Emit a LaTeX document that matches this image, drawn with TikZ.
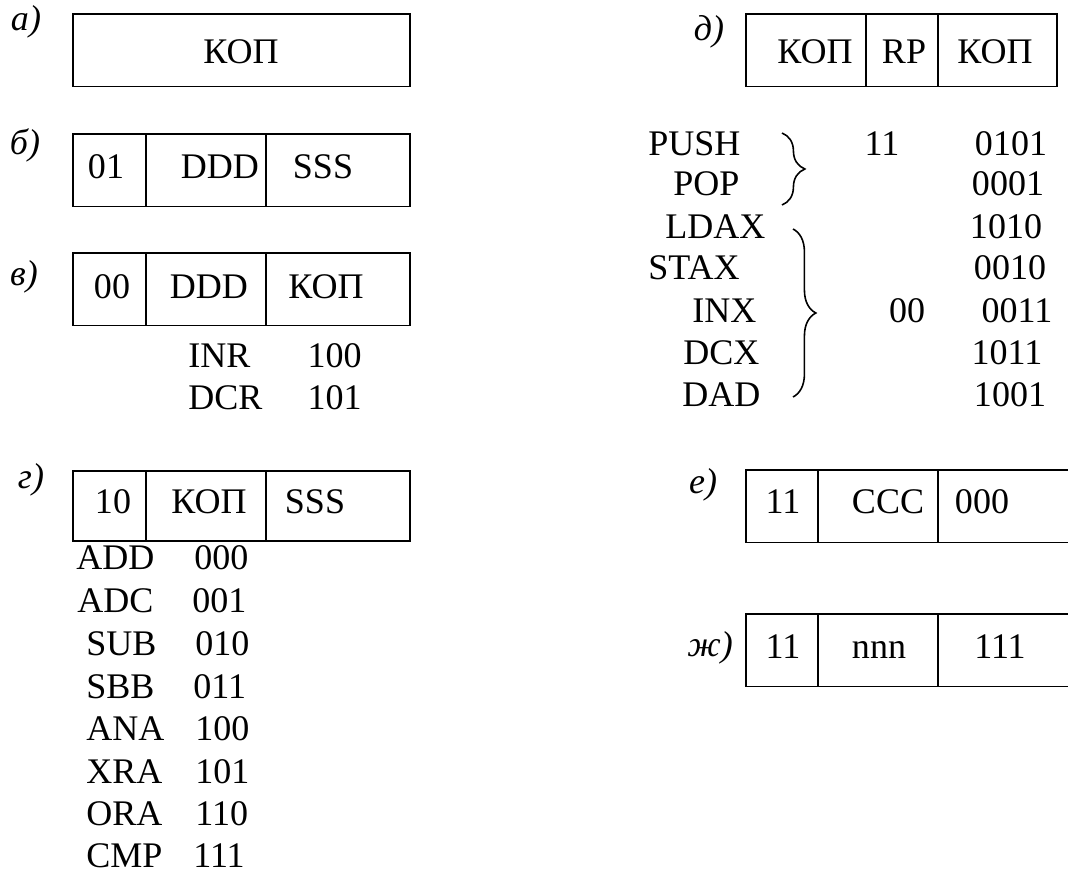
\documentclass[tikz,border=0pt]{standalone}
\usepackage{fontspec}
\setmainfont{Liberation Serif}
\usetikzlibrary{positioning}
\usetikzlibrary{decorations.pathreplacing}

\begin{document}
\begin{tikzpicture}[x=0.02cm, y=-0.02cm,
		field/.style={draw, line width=1pt, inner sep=0pt, outer sep=0pt, minimum height=1.45cm},
		txt/.style={inner sep=0pt, font=\fontsize{20.5}{24}\selectfont},
		lbl/.style={inner sep=0pt, font=\fontsize{20.5}{24}\selectfont\itshape},
		brace/.style={decorate, decoration={brace, amplitude=13pt}, line width=0.9pt}]
			\useasboundingbox (0,0) rectangle (1068,874);
			\clip (0,0) rectangle (1068,874);
			
			%coordinates
			\coordinate (LLa) at (73,14);
			\coordinate (LLb) at (73,134);
			\coordinate (LLv) at (73,253);
			\coordinate (LLg) at (73,471);
			\coordinate (LLd) at (746,14);
			\coordinate (LLe) at (746,470);
			\coordinate (LLz) at (746,614);
			
			\coordinate (BroneT) at (782,133);
			\coordinate (BroneB) at (782,205);
			\coordinate (BrtwoT) at (793,229);
			\coordinate (BrtwoB) at (793,397);
			
			%a) whole word
			\node[field, minimum width=6.74cm, anchor=north west] (a) at (LLa) {};
			\node[lbl] (la) at (26,22) {а)};
			\node[txt] (aop) at (241,52) {КОП};
			
			%b) 01 DDD SSS
			\node[field, minimum width=1.46cm, anchor=north west] (b1) at (LLb) {};
			\node[field, minimum width=2.4cm, right=0pt of b1] (b2) {};
			\node[field, minimum width=2.88cm, right=0pt of b2] (b3) {};
			\node[lbl] (lb) at (25,145) {б)};
			\node[txt] (b1t) at (106,167) {01};
			\node[txt] (b2t) at (220,167) {DDD};
			\node[txt] (b3t) at (323,167) {SSS};
			
			%v) 00 DDD KOP
			\node[field, minimum width=1.46cm, anchor=north west] (v1) at (LLv) {};
			\node[field, minimum width=2.4cm, right=0pt of v1] (v2) {};
			\node[field, minimum width=2.88cm, right=0pt of v2] (v3) {};
			\node[lbl] (lv) at (24,277) {в)};
			\node[txt] (v1t) at (112,287) {00};
			\node[txt] (v2t) at (209,287) {DDD};
			\node[txt] (v3t) at (326,287) {КОП};
			\node[txt, anchor=west] (inr) at (188,356) {INR};
			\node[txt, anchor=east] (inrc) at (362,356) {100};
			\node[txt, anchor=west] (dcr) at (188,398) {DCR};
			\node[txt, anchor=east] (dcrc) at (362,398) {101};
			
			%g) 10 KOP SSS
			\node[field, minimum width=1.46cm, minimum height=1.4cm, anchor=north west] (g1) at (LLg) {};
			\node[field, minimum width=2.4cm, minimum height=1.4cm, right=0pt of g1] (g2) {};
			\node[field, minimum width=2.88cm, minimum height=1.4cm, right=0pt of g2] (g3) {};
			\node[lbl] (lg) at (31,480) {г)};
			\node[txt] (g1t) at (113,502) {10};
			\node[txt] (g2t) at (209,502) {КОП};
			\node[txt] (g3t) at (315,502) {SSS};
			
			\node[txt, anchor=west] (add) at (76,558) {ADD};
			\node[txt, anchor=west] (adc) at (77,601) {ADC};
			\node[txt, anchor=west] (sub) at (86,644) {SUB};
			\node[txt, anchor=west] (sbb) at (86,687) {SBB};
			\node[txt, anchor=west] (ana) at (86,729) {ANA};
			\node[txt, anchor=west] (xra) at (86,772) {XRA};
			\node[txt, anchor=west] (ora) at (86,814) {ORA};
			\node[txt, anchor=west] (cmp) at (86,856) {CMP};
			\node[txt, anchor=west] (addc) at (194,558) {000};
			\node[txt, anchor=west] (adcc) at (192,601) {001};
			\node[txt, anchor=west] (subc) at (195,644) {010};
			\node[txt, anchor=west] (sbbc) at (193,687) {011};
			\node[txt, anchor=west] (anac) at (195,729) {100};
			\node[txt, anchor=west] (xrac) at (195,772) {101};
			\node[txt, anchor=west] (orac) at (195,814) {110};
			\node[txt, anchor=west] (cmpc) at (193,856) {111};
			
			%d) KOP RP KOP
			\node[field, minimum width=2.4cm, anchor=north west] (d1) at (LLd) {};
			\node[field, minimum width=1.44cm, right=0pt of d1] (d2) {};
			\node[field, minimum width=2.38cm, right=0pt of d2] (d3) {};
			\node[lbl] (ld) at (709,32) {д)};
			\node[txt] (d1t) at (815,52) {КОП};
			\node[txt] (d2t) at (904,52) {RP};
			\node[txt] (d3t) at (995,52) {КОП};
			
			\node[txt, anchor=west] (push) at (648,144) {PUSH};
			\node[txt, anchor=west] (pop) at (673,184) {POP};
			\node[txt, anchor=west] (ldax) at (665,227) {LDAX};
			\node[txt, anchor=west] (stax) at (648,268) {STAX};
			\node[txt, anchor=west] (inx) at (692,311) {INX};
			\node[txt, anchor=west] (dcx) at (683,353) {DCX};
			\node[txt, anchor=west] (dad) at (682,395) {DAD};
			
			\node[txt] (rpone) at (882,144) {11};
			\node[txt] (rptwo) at (907,311) {00};
			
			\node[txt] (pushc) at (1011,144) {0101};
			\node[txt] (popc) at (1008,184) {0001};
			\node[txt] (ldaxc) at (1006,227) {1010};
			\node[txt] (staxc) at (1010,268) {0010};
			\node[txt] (inxc) at (1017,311) {0011};
			\node[txt] (dcxc) at (1007,353) {1011};
			\node[txt] (dadc) at (1010,395) {1001};
			
			\draw[brace] (BroneT) -- (BroneB);
			\draw[brace] (BrtwoT) -- (BrtwoB);
			
			%e) 11 CCC 000
			\node[field, minimum width=1.44cm, anchor=north west] (e1) at (LLe) {};
			\node[field, minimum width=2.4cm, right=0pt of e1] (e2) {};
			\node[field, minimum width=3.2cm, right=0pt of e2] (e3) {};
			\node[lbl] (le) at (703,485) {е)};
			\node[txt] (e1t) at (783,502) {11};
			\node[txt] (e2t) at (888,502) {CCC};
			\node[txt] (e3t) at (982,502) {000};
			
			%zh) 11 nnn 111
			\node[field, minimum width=1.44cm, anchor=north west] (z1) at (LLz) {};
			\node[field, minimum width=2.4cm, right=0pt of z1] (z2) {};
			\node[field, minimum width=3.2cm, right=0pt of z2] (z3) {};
			\node[lbl] (lz) at (710,648) {ж)};
			\node[txt] (z1t) at (783,647) {11};
			\node[txt] (z2t) at (879,650) {nnn};
			\node[txt] (z3t) at (1000,647) {111};
\end{tikzpicture}
\end{document}
